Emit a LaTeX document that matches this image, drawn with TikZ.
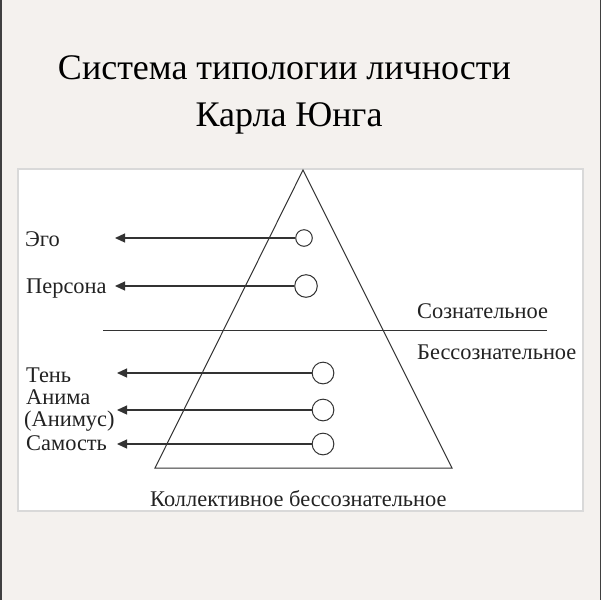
\documentclass[tikz,border=0pt]{standalone}
\usepackage{fontspec}
\setmainfont{Liberation Serif}
\usetikzlibrary{arrows.meta}
\definecolor{bg}{HTML}{F4F1EE}
\definecolor{ln}{HTML}{333333}
\definecolor{tx}{HTML}{222222}
\tikzset{
  lbl/.style={anchor=base west, inner sep=0pt, text=tx, font=\fontsize{22.4}{24}\selectfont},
  bub/.style={circle, draw=ln, line width=1pt, fill=white, inner sep=0pt},
  arr/.style={draw=ln, line width=1.2pt, -{Triangle[length=10pt,width=9pt]}},
  ttl/.style={anchor=base, inner sep=0pt, text=black, font=\fontsize{36}{40}\selectfont}
}
\begin{document}
\begin{tikzpicture}[x=1pt,y=-1pt]
\useasboundingbox (0,0) rectangle (601,600);
\fill[bg] (0,0) rectangle (601,600);
\fill[black!75] (0,0) rectangle (1.5,600);
\fill[black!75] (599.5,0) rectangle (601,600);
% title
\node[ttl] (t1) at (284.5,79) {Система типологии личности};
\node[ttl] (t2) at (289,126) {Карла Юнга};
% white panel
\fill[white, draw=black!15, line width=1.5pt] (18,169) rectangle (583,511);
% triangle
\coordinate (apex) at (303,170);
\coordinate (bl) at (155,468);
\coordinate (br) at (452,468);
\draw[ln, line width=1pt, line join=miter] (apex) -- (br) -- (bl) -- cycle;
% divider
\coordinate (dl) at (103,330);
\coordinate (dr) at (547,330);
\draw[ln, line width=1pt] (dl) -- (dr);
% circles
\node[bub, minimum size=16.6pt] (ego) at (304,238) {};
\node[bub, minimum size=22.6pt] (pers) at (306,286) {};
\node[bub, minimum size=21.7pt] (ten) at (323,373) {};
\node[bub, minimum size=21.7pt] (anima) at (323,410) {};
\node[bub, minimum size=21.7pt] (self) at (323,444) {};
% arrow tips
\coordinate (egoT) at (115,238);
\coordinate (persT) at (115,286);
\coordinate (tenT) at (117,373);
\coordinate (animaT) at (117,410);
\coordinate (selfT) at (117,444);
\draw[arr] (ego.west) -- (egoT);
\draw[arr] (pers.west) -- (persT);
\draw[arr] (ten.west) -- (tenT);
\draw[arr] (anima.west) -- (animaT);
\draw[arr] (self.west) -- (selfT);
% labels
\node[lbl] (lego) at (25,246) {Эго};
\node[lbl] (lpers) at (26,293) {Персона};
\node[lbl] (lten) at (26,382) {Тень};
\node[lbl] (lan1) at (26,404) {Анима};
\node[lbl] (lan2) at (24,426) {(Анимус)};
\node[lbl] (lself) at (26,450) {Самость};
\node[lbl] (lcon) at (417,318) {Сознательное};
\node[lbl] (lunc) at (417,359) {Бессознательное};
\node[lbl] (lcol) at (150,506) {Коллективное бессознательное};
\end{tikzpicture}
\end{document}
